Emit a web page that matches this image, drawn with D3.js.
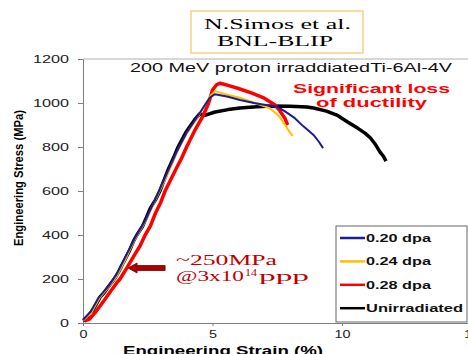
<!DOCTYPE html>
<html>
<head>
<meta charset="utf-8">
<script src="https://cdn.jsdelivr.net/npm/d3@7"></script>
<style>
  body { margin: 0; background: #fff; }
  svg { display: block; font-family: "Liberation Sans", Arial, sans-serif; }
</style>
</head>
<body>
<div id="chart"></div>
<script>
// strain (%) / stress (MPa) pairs
const unirradiated = [[0,10],[0.15,22],[0.4,62],[0.66,118],[0.8,135],[0.95,160],[1.24,205],[1.4,238],[1.5,262],[1.8,330],[1.95,372],[2.08,400],[2.3,440],[2.45,480],[2.6,522],[2.8,560],[2.97,600],[3.1,640],[3.3,700],[3.5,752],[3.67,800],[4.0,872],[4.3,922],[4.5,950],[4.7,944],[5.1,959],[5.6,970],[6.06,977],[6.7,983],[7.3,986],[8.0,985],[8.65,982],[8.9,977],[9.4,963],[9.8,945],[10.2,915],[10.6,886],[10.9,862],[11.1,841],[11.3,810],[11.47,777],[11.6,758],[11.7,736]];
const dpa028 = [[0.05,8],[0.25,18],[0.5,52],[0.8,100],[1.1,150],[1.3,182],[1.43,200],[1.7,252],[2.0,312],[2.2,350],[2.4,400],[2.6,440],[2.8,500],[3.0,548],[3.17,600],[3.6,702],[3.8,748],[4.0,800],[4.3,872],[4.63,940],[4.85,1000],[5.0,1059],[5.15,1082],[5.3,1090],[5.6,1080],[6.0,1066],[6.5,1046],[7.0,1022],[7.4,992],[7.6,965],[7.8,930],[7.9,900]];
const dpa024 = [[0,12],[0.3,42],[0.66,118],[1.0,165],[1.3,212],[1.6,280],[2.0,380],[2.4,460],[2.8,560],[3.2,660],[3.6,770],[4.0,860],[4.4,930],[4.7,990],[4.9,1030],[5.1,1054],[5.5,1040],[6.06,1024],[6.7,998],[7.2,977],[7.4,958],[7.6,936],[7.8,900],[8.0,864],[8.1,850]];
const dpa020 = [[0,15],[0.3,52],[0.6,115],[1.0,170],[1.3,222],[1.6,292],[2.0,385],[2.4,465],[2.8,565],[3.2,670],[3.6,775],[4.0,865],[4.4,935],[4.7,990],[4.9,1025],[5.1,1040],[5.6,1028],[6.06,1014],[6.6,1000],[7.0,992],[7.49,983],[7.8,962],[8.18,931],[8.5,895],[8.9,855],[9.1,825],[9.27,795]];

const seriesNames = ['0.20 dpa', '0.24 dpa', '0.28 dpa', 'Unirradiated'];
const seriesColors = ['#1c1c94', '#ffc000', '#ff0000', '#000000'];
const xTicks = [0, 5, 10, 15];
const yTicks = [0, 200, 400, 600, 800, 1000, 1200];

const width = 468, height = 354;

const svg = d3.select('#chart')
  .append('svg')
  .attr('width', width)
  .attr('height', height);

const x = d3.scaleLinear().domain([0, 15]).range([83, 471.5]);
const y = d3.scaleLinear().domain([0, 1200]).range([323, 59]);

// top border of the plot area
svg.append('line')
  .attr('x1', x(0)).attr('x2', width)
  .attr('y1', y(1200)).attr('y2', y(1200))
  .attr('stroke', '#b0b0b0');

const yAxis = svg.append('g')
  .attr('transform', 'translate(' + x(0) + ',0)')
  .call(d3.axisLeft(y).tickValues(yTicks).tickFormat(d3.format('d')).tickSize(5).tickSizeOuter(0).tickPadding(9));
yAxis.select('.domain').attr('stroke', '#808080');
yAxis.selectAll('.tick line').attr('stroke', '#808080');
yAxis.selectAll('text')
  .attr('font-size', 10)
  .attr('fill', '#222')
  .attr('dy', '0.36em')
  .attr('textLength', d => String(d).length * 9)
  .attr('lengthAdjust', 'spacingAndGlyphs');

const xAxis = svg.append('g')
  .attr('transform', 'translate(0,' + y(0) + ')')
  .call(d3.axisBottom(x).tickValues(xTicks).tickFormat(d3.format('d')).tickSize(3).tickSizeOuter(0).tickPadding(5));
xAxis.select('.domain').attr('stroke', '#808080');
xAxis.selectAll('.tick line').attr('stroke', '#808080');
xAxis.selectAll('text')
  .attr('font-size', 10)
  .attr('fill', '#222')
  .attr('textLength', d => String(d).length * 8)
  .attr('lengthAdjust', 'spacingAndGlyphs');

const line = d3.line()
  .x(d => x(d[0]))
  .y(d => y(d[1]));

const curves = [
  { data: unirradiated, color: seriesColors[3], w: 3.5 },
  { data: dpa028, color: seriesColors[2], w: 3.5 },
  { data: dpa024, color: seriesColors[1], w: 2 },
  { data: dpa020, color: seriesColors[0], w: 2 }
];
curves.forEach(c => {
  svg.append('path')
    .datum(c.data)
    .attr('fill', 'none')
    .attr('stroke', c.color)
    .attr('stroke-width', c.w)
    .attr('stroke-linejoin', 'round')
    .attr('d', line);
});

// axis titles
svg.append('text')
  .attr('transform', 'translate(23,178) rotate(-90)')
  .attr('text-anchor', 'middle')
  .attr('font-size', 12.5)
  .attr('font-weight', 'bold')
  .attr('textLength', 136)
  .attr('lengthAdjust', 'spacingAndGlyphs')
  .text('Engineering Stress (MPa)');

svg.append('text')
  .attr('x', 123).attr('y', 355)
  .attr('font-size', 13)
  .attr('font-weight', 'bold')
  .attr('textLength', 200)
  .attr('lengthAdjust', 'spacingAndGlyphs')
  .text('Engineering Strain (%)');

// plot title
svg.append('text')
  .attr('x', 130).attr('y', 72)
  .attr('font-size', 12.5)
  .attr('fill', '#111')
  .attr('textLength', 322)
  .attr('lengthAdjust', 'spacingAndGlyphs')
  .text('200 MeV proton irraddiatedTi-6Al-4V');

// reference box
svg.append('rect')
  .attr('x', 191).attr('y', 11).attr('width', 172).attr('height', 42)
  .attr('fill', '#fff').attr('stroke', '#f2c766').attr('stroke-width', 1.2);
svg.append('text')
  .attr('x', 204).attr('y', 29)
  .attr('font-family', '"Liberation Serif", "DejaVu Serif", serif')
  .attr('font-size', 15)
  .attr('textLength', 147)
  .attr('lengthAdjust', 'spacingAndGlyphs')
  .text('N.Simos et al.');
svg.append('text')
  .attr('x', 217).attr('y', 46)
  .attr('font-family', '"Liberation Serif", "DejaVu Serif", serif')
  .attr('font-size', 15)
  .attr('textLength', 116)
  .attr('lengthAdjust', 'spacingAndGlyphs')
  .text('BNL-BLIP');

// ductility note
svg.append('text')
  .attr('x', 293).attr('y', 93)
  .attr('font-size', 13).attr('font-weight', 'bold').attr('fill', '#ff0000')
  .attr('textLength', 157).attr('lengthAdjust', 'spacingAndGlyphs')
  .text('Significant loss');
svg.append('text')
  .attr('x', 316).attr('y', 107)
  .attr('font-size', 13).attr('font-weight', 'bold').attr('fill', '#ff0000')
  .attr('textLength', 111).attr('lengthAdjust', 'spacingAndGlyphs')
  .text('of ductility');

// ~250 MPa arrow and note
const tipX = x(1.74), tipY = y(250), tailX = x(3.17);
svg.append('path')
  .attr('d', 'M' + tipX + ',' + tipY +
    'L' + (tipX + 9) + ',' + (tipY - 5) +
    'L' + (tipX + 9) + ',' + (tipY - 2.5) +
    'L' + tailX + ',' + (tipY - 2.5) +
    'L' + tailX + ',' + (tipY + 2.5) +
    'L' + (tipX + 9) + ',' + (tipY + 2.5) +
    'L' + (tipX + 9) + ',' + (tipY + 5) + 'Z')
  .attr('fill', '#a80000')
  .attr('stroke', '#7a0000')
  .attr('stroke-width', 0.8);

const serif = '"Liberation Serif", "DejaVu Serif", serif';
svg.append('text')
  .attr('x', 176).attr('y', 265)
  .attr('font-family', serif).attr('font-size', 15).attr('fill', '#c00000')
  .attr('textLength', 101).attr('lengthAdjust', 'spacingAndGlyphs')
  .text('~250MPa');
svg.append('text')
  .attr('x', 176).attr('y', 281)
  .attr('font-family', serif).attr('font-size', 15).attr('fill', '#c00000')
  .attr('textLength', 68).attr('lengthAdjust', 'spacingAndGlyphs')
  .text('@3x10');
svg.append('text')
  .attr('x', 245).attr('y', 276)
  .attr('font-family', serif).attr('font-size', 10).attr('fill', '#c00000')
  .attr('textLength', 12).attr('lengthAdjust', 'spacingAndGlyphs')
  .text('14');
svg.append('text')
  .attr('x', 259).attr('y', 281)
  .attr('font-family', serif).attr('font-size', 15).attr('fill', '#c00000')
  .attr('textLength', 50).attr('lengthAdjust', 'spacingAndGlyphs')
  .text('ppp');

// legend
const legend = svg.append('g').attr('transform', 'translate(336,226)');
legend.append('rect')
  .attr('width', 131).attr('height', 96)
  .attr('fill', '#fff').attr('stroke', '#666');
const legendLens = [65, 65, 65, 97];
seriesNames.forEach((name, i) => {
  const gy = 12 + i * 23.4;
  legend.append('line')
    .attr('x1', 4).attr('x2', 29)
    .attr('y1', gy).attr('y2', gy)
    .attr('stroke', seriesColors[i]).attr('stroke-width', 2.5);
  legend.append('text')
    .attr('x', 30).attr('y', gy + 4)
    .attr('font-size', 10.5).attr('font-weight', 'bold').attr('fill', '#111')
    .attr('textLength', legendLens[i]).attr('lengthAdjust', 'spacingAndGlyphs')
    .text(name);
});
</script>
</body>
</html>
